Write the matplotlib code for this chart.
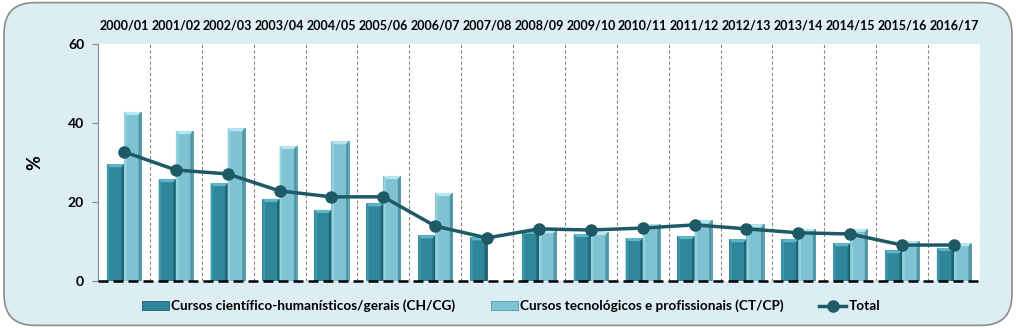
import matplotlib
matplotlib.use("Agg")
import matplotlib.pyplot as plt
from matplotlib.patches import FancyBboxPatch, Polygon
import numpy as np

plt.rcParams['font.family'] = ['Lato', 'DejaVu Sans']

# dados
anos = ['2000/01', '2001/02', '2002/03', '2003/04', '2004/05', '2005/06', '2006/07', '2007/08',
        '2008/09', '2009/10', '2010/11', '2011/12', '2012/13', '2013/14', '2014/15', '2015/16', '2016/17']
ch_cg = [29.6, 25.8, 24.8, 20.8, 18.0, 19.7, 11.6, 11.1, 12.7, 11.9, 10.9, 11.4, 10.6, 10.6, 9.6, 7.8, 8.4]
ct_cp = [42.8, 38.0, 38.7, 34.2, 35.4, 26.6, 22.3, np.nan, 12.9, 12.4, 14.4, 15.4, 14.4, 13.2, 13.2, 10.1, 9.6]
total = [32.7, 28.1, 27.1, 22.8, 21.3, 21.3, 13.9, 10.9, 13.2, 12.9, 13.4, 14.2, 13.2, 12.2, 11.9, 9.1, 9.1]

lbl_ch = 'Cursos científico-humanísticos/gerais (CH/CG)'
lbl_ct = 'Cursos tecnológicos e profissionais (CT/CP)'
lbl_tot = 'Total'

c_ch = '#2f8799'
c_ct = '#7fc3d3'
c_tot = '#1d5a66'

fig = plt.figure(figsize=(10.16, 3.28), dpi=100)
fig.patch.set_facecolor('white')
# fundo arredondado
bg = FancyBboxPatch((0.004, 0.008), 0.992, 0.984, boxstyle="round,pad=0,rounding_size=0.03",
                    transform=fig.transFigure, facecolor='#dcedf3', edgecolor='#8c8c8c', lw=1.2,
                    mutation_aspect=1016/328, zorder=-10)
fig.patches.append(bg)

ax = fig.add_axes([0.0965, 0.1433, 0.868, 0.7227])
ax.set_zorder(2)
ax.set_facecolor('white')

x = np.arange(len(anos))
w = 0.33
b1 = ax.bar(x - w/2, ch_cg, w, color=c_ch, edgecolor='#1f5f6d', lw=0.6, zorder=3, label=lbl_ch)
b2 = ax.bar(x + w/2, ct_cp, w, color=c_ct, edgecolor='#4f97a8', lw=0.6, zorder=3, label=lbl_ct)

# efeito de relevo (bisel)
def bevel(bars, c_top, c_left, c_right):
    dx = 0.05
    dy = 0.8
    for r in bars:
        h = r.get_height()
        if not np.isfinite(h) or h <= 0:
            continue
        x0 = r.get_x()
        x1 = x0 + r.get_width()
        ax.add_patch(Polygon([(x0, h), (x1, h), (x1 - dx, h - dy), (x0 + dx, h - dy)],
                             closed=True, fc=c_top, ec='none', zorder=4))
        ax.add_patch(Polygon([(x0, h), (x0 + dx, h - dy), (x0 + dx, 0), (x0, 0)],
                             closed=True, fc=c_left, ec='none', zorder=4))
        ax.add_patch(Polygon([(x1, h), (x1 - dx, h - dy), (x1 - dx, 0), (x1, 0)],
                             closed=True, fc=c_right, ec='none', zorder=4))

bevel(b1, '#5fb6c9', '#3a98aa', '#1f6474')
bevel(b2, '#b6e6f1', '#94d1de', '#4f95a6')

ln, = ax.plot(x, total, color=c_tot, lw=2.5, marker='o', ms=8, zorder=5, label=lbl_tot)

for i in range(len(anos)):
    ax.axvline(i + 0.5, color='#8a8a8a', ls=(0, (3, 2)), lw=0.8, zorder=1)
ax.axhline(0, color='black', ls=(0, (4, 2)), lw=1.8, zorder=6, clip_on=False)

ax.set_xlim(-0.5, len(anos) - 0.5)
ax.set_ylim(0, 60)
ax.set_yticks([0, 20, 40, 60])
ax.set_yticklabels(['0', '20', '40', '60'], fontsize=10, fontweight='bold')
ax.tick_params(axis='y', length=4, color='#8a8a8a', pad=6)

ax.xaxis.tick_top()
ax.set_xticks(x)
ax.set_xticklabels(anos, fontsize=9, fontweight='bold')
ax.tick_params(axis='x', length=0, pad=9)

for s in ['top', 'right', 'bottom']:
    ax.spines[s].set_visible(False)
ax.spines['left'].set_color('#8a8a8a')

ax.set_ylabel('%', fontsize=13, fontweight='bold', labelpad=18)

fig.legend(handles=[b1, b2, ln], labels=[lbl_ch, lbl_ct, lbl_tot], loc='center',
           bbox_to_anchor=(0.503, 0.067), ncol=3, frameon=False,
           prop={'weight': 'bold', 'size': 9.8}, handlelength=2.0, handleheight=0.6,
           columnspacing=2.6, handletextpad=0.15)

fig.savefig('out.png', dpi=100)
